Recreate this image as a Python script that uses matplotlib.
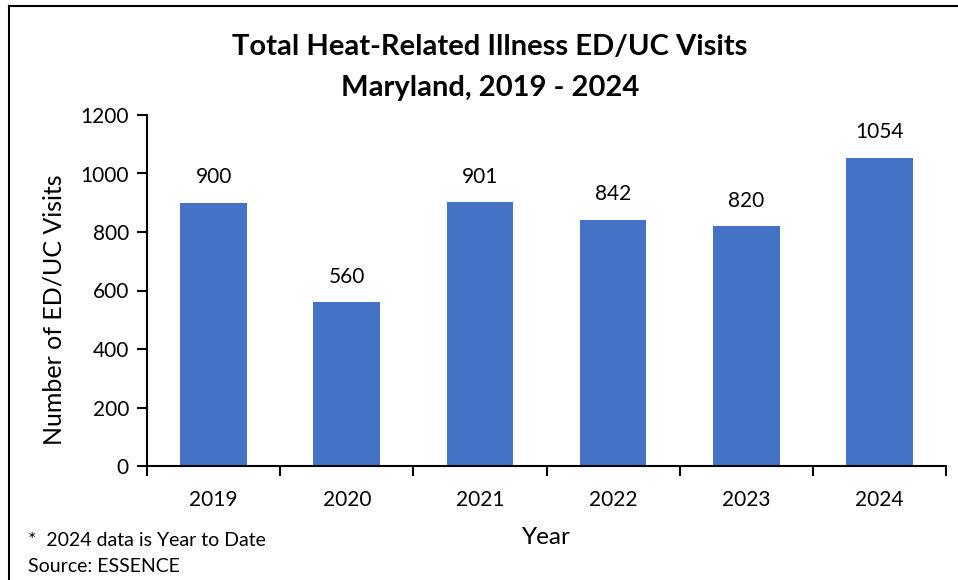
import matplotlib
matplotlib.use("Agg")
import matplotlib.pyplot as plt
from matplotlib.lines import Line2D

years = ["2019", "2020", "2021", "2022", "2023", "2024"]
visits = [900, 560, 901, 842, 820, 1054]
yticks = [0, 200, 400, 600, 800, 1000, 1200]

plt.rcParams['font.family'] = ['Lato', 'DejaVu Sans']

W, H = 958, 580
fig = plt.figure(figsize=(W / 100, H / 100), dpi=100)
fig.patch.set_facecolor('white')

# axes: x from 147 to 946, y from 115 (1200) to 466 (0)
ax = fig.add_axes([147 / W, 1 - 466 / H, (946 - 147) / W, (466 - 115) / H])

x = list(range(len(years)))
ax.bar(x, visits, width=0.5, color='#4472C4', zorder=2)
ax.set_xlim(-0.5, len(years) - 0.5)
ax.set_ylim(0, 1200)
ax.set_yticks(yticks)
ax.set_yticklabels([str(v) for v in yticks], fontsize=15)
ax.set_xticks(x)
ax.set_xticklabels(years, fontsize=15)
ax.tick_params(axis='x', length=0, pad=17)
ax.set_xticks([i - 0.5 for i in range(len(years) + 1)], minor=True)
ax.tick_params(axis='x', which='minor', length=7, width=1.5, direction='out')
ax.tick_params(axis='y', length=7, width=1.5, direction='out', pad=6)

for s in ['top', 'right']:
    ax.spines[s].set_visible(False)
for s in ['left', 'bottom']:
    ax.spines[s].set_linewidth(1.5)

for xi, v in zip(x, visits):
    ax.annotate(str(v), (xi, v), xytext=(0, 11), textcoords='offset points',
                ha='center', va='bottom', fontsize=15)

fig.text(54 / W, 1 - 310 / H, "Number of ED/UC Visits", rotation=90,
         ha='center', va='center', fontsize=18)

fig.text(546 / W, 1 - 537 / H, "Year", ha='center', va='center', fontsize=17.5)
fig.text(490 / W, 1 - 47 / H, "Total Heat-Related Illness ED/UC Visits",
         ha='center', va='center', fontsize=21, fontweight='bold')
fig.text(490 / W, 1 - 88 / H, "Maryland, 2019 - 2024",
         ha='center', va='center', fontsize=21, fontweight='bold')
fig.text(28 / W, 1 - 541 / H, "*  2024 data is Year to Date",
         ha='left', va='center', fontsize=14)
fig.text(28 / W, 1 - 566 / H, "Source: ESSENCE",
         ha='left', va='center', fontsize=14)

# outer border (top and left visible)
fig.add_artist(Line2D([9 / W, 1.0], [1 - 6 / H, 1 - 6 / H], color='black', lw=1.5,
                      transform=fig.transFigure))
fig.add_artist(Line2D([9 / W, 9 / W], [1 - 6 / H, 0], color='black', lw=1.5,
                      transform=fig.transFigure))

fig.savefig("out.png", dpi=100)
